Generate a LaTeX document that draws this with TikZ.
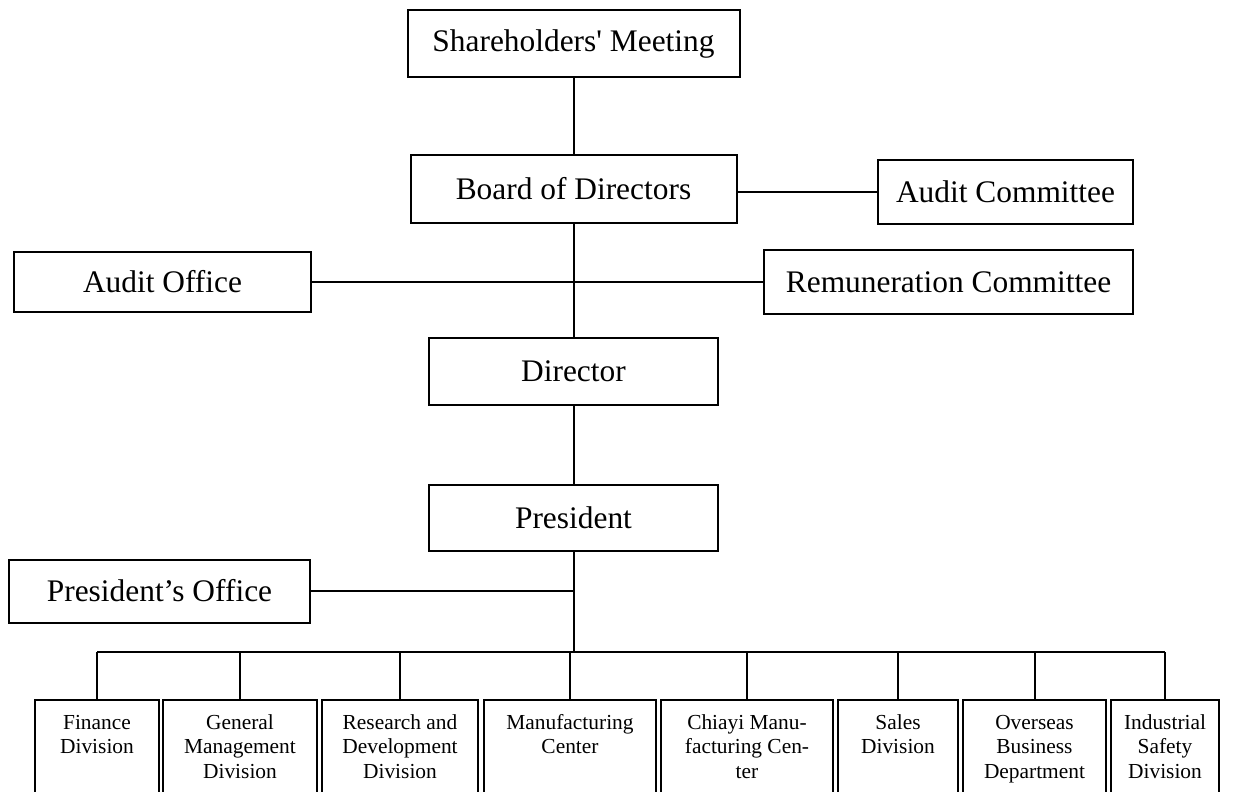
\documentclass[tikz,border=0pt]{standalone}
\usepackage{fontspec}
\setmainfont{Liberation Serif}
\usetikzlibrary{positioning}

\tikzset{
  post/.style={draw, line width=1pt, minimum height=33pt, inner sep=2pt, font=\fontsize{15.7}{18}\selectfont},
  unit/.style={draw, line width=1pt, anchor=north, align=flush center, inner xsep=2pt, inner ysep=7pt, text height=7.5pt, text depth=45pt, font=\fontsize{10.7}{12.3}\selectfont},
  link/.style={line width=1pt},
}

\begin{document}
\begin{tikzpicture}[x=0.5pt, y=-0.5pt]
\clip (0,0) rectangle (1243,792);
% upper levels
\node[post, minimum width=166pt, minimum height=33.5pt] (share) at (573.5,43.5) {Shareholders\textquotesingle{} Meeting};
\node[post, minimum width=163pt, minimum height=34pt] (board) at (573.5,189) {Board of Directors};
\node[post, minimum width=127.5pt, minimum height=32pt] (auditc) at (1005.5,192) {Audit Committee};
\node[post, minimum width=184.5pt, minimum height=32pt] (remun) at (948.5,282) {Remuneration Committee};
\node[post, minimum width=148.5pt, minimum height=30pt] (aoff) at (162.5,282) {Audit Office};
\node[post, minimum width=144.5pt, minimum height=33.5pt] (dir) at (573.5,371.5) {Director};
\node[post, minimum width=144.5pt, minimum height=33pt] (pres) at (573.5,518) {President};
\node[post, minimum width=150.5pt, minimum height=31.5pt] (poff) at (159.5,591) {President’s Office};
\coordinate (bus) at (573.5,652);
% divisions
\node[unit, text width=58pt] (fin) at (97,699) {Finance\\Division};
\node[unit, text width=73pt] (gen) at (240,699) {General\\Management\\Division};
\node[unit, text width=74pt] (rnd) at (400,699) {Research and\\Development\\Division};
\node[unit, text width=82pt] (mfg) at (570,699) {Manufacturing\\Center};
\node[unit, text width=82pt] (chy) at (747,699) {Chiayi Manu-\\facturing Cen-\\ter};
\node[unit, text width=56pt] (sal) at (898,699) {Sales\\Division};
\node[unit, text width=67.5pt] (ovs) at (1034.5,699) {Overseas\\Business\\Department};
\node[unit, text width=50pt] (ind) at (1165,699) {Industrial\\Safety\\Division};
% connectors
\draw[link] (share) -- (board);
\draw[link] (board.east |- auditc) -- (auditc.west);
\draw[link] (board) -- (dir);
\draw[link] (aoff) -- (remun);
\draw[link] (dir) -- (pres);
\draw[link] (pres) -- (bus);
\draw[link] (poff) -- (poff -| bus);
\draw[link] (fin.north |- bus) -- (ind.north |- bus);
\foreach \u in {fin,gen,rnd,mfg,chy,sal,ovs,ind}
  \draw[link] (\u.north) -- (\u.north |- bus);
\end{tikzpicture}
\end{document}
